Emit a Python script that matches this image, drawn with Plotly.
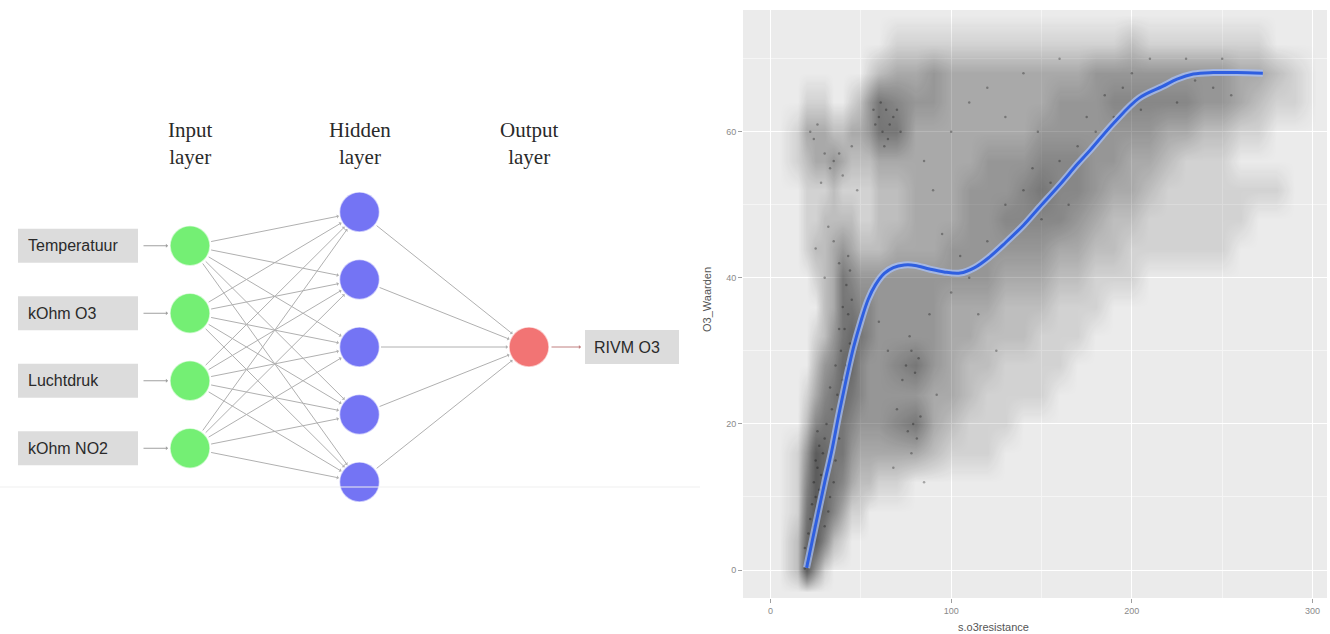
import plotly.graph_objects as go

W, H = 1330, 634

# ---------------- Neural-network diagram data ----------------
layer_titles = ["Input<br>layer", "Hidden<br>layer", "Output<br>layer"]
input_labels = ["Temperatuur", "kOhm O3", "Luchtdruk", "kOhm NO2"]
hidden_count = 5
output_labels = ["RIVM O3"]
layer_colors = ["#74ef74", "#7474f4", "#f27474"]

# ---------------- Scatter panel data ----------------
curve_x = [20, 25, 30, 34, 38, 42, 46, 50, 54, 58, 63, 68, 74, 80, 88, 96, 105,
           113, 121, 130, 140, 149, 160, 170, 177, 190, 204, 217, 225, 234, 245,
           258, 272.5]
curve_y = [0.3, 6.2, 12.0, 16.4, 21.5, 26.2, 30.5, 34.0, 37.0, 39.0, 40.6, 41.4,
           41.75, 41.7, 41.2, 40.8, 40.65, 41.4, 42.8, 44.8, 47.2, 49.7, 52.7,
           55.6, 57.5, 61.2, 64.6, 66.2, 67.2, 67.9, 68.1, 68.1, 68.0]

# point-density read from the cloud (rows = grid_y, cols = grid_x)
grid_x = [15, 20, 25, 30, 35, 40, 45, 50, 55, 60, 70, 80, 90, 100, 110, 120, 130,
          140, 150, 160, 170, 180, 190, 200, 210, 220, 230, 240, 250, 260, 270,
          280, 290]
grid_y = [0, 4, 8, 12, 16, 20, 24, 28, 32, 36, 40, 44, 48, 52, 56, 60, 64, 68, 72]
density = [
    [2, 8, 4, 1, 0, 0, 0, 0, 0, 0, 0, 0, 0, 0, 0, 0, 0, 0, 0, 0, 0, 0, 0, 0, 0, 0, 0, 0, 0, 0, 0, 0, 0],
    [2, 7, 8, 5, 2, 1, 0, 0, 0, 0, 0, 0, 0, 0, 0, 0, 0, 0, 0, 0, 0, 0, 0, 0, 0, 0, 0, 0, 0, 0, 0, 0, 0],
    [1, 6, 8, 7, 5, 3, 1, 1, 0, 0, 0, 0, 0, 0, 0, 0, 0, 0, 0, 0, 0, 0, 0, 0, 0, 0, 0, 0, 0, 0, 0, 0, 0],
    [1, 5, 8, 7, 6, 5, 3, 2, 2, 1, 1, 0, 0, 0, 0, 0, 0, 0, 0, 0, 0, 0, 0, 0, 0, 0, 0, 0, 0, 0, 0, 0, 0],
    [1, 4, 8, 7, 6, 6, 4, 3, 3, 3, 3, 3, 2, 1, 1, 1, 0, 0, 0, 0, 0, 0, 0, 0, 0, 0, 0, 0, 0, 0, 0, 0, 0],
    [0, 2, 5, 6, 6, 6, 5, 4, 4, 4, 5, 6, 3, 2, 1, 1, 1, 0, 0, 0, 0, 0, 0, 0, 0, 0, 0, 0, 0, 0, 0, 0, 0],
    [0, 1, 3, 5, 6, 7, 6, 5, 4, 4, 4, 4, 3, 3, 2, 1, 1, 1, 1, 0, 0, 0, 0, 0, 0, 0, 0, 0, 0, 0, 0, 0, 0],
    [0, 0, 2, 4, 5, 7, 7, 5, 4, 4, 5, 6, 4, 3, 2, 2, 1, 1, 1, 1, 0, 0, 0, 0, 0, 0, 0, 0, 0, 0, 0, 0, 0],
    [0, 0, 1, 2, 4, 6, 7, 6, 5, 4, 4, 4, 4, 3, 3, 2, 2, 2, 1, 1, 1, 0, 0, 0, 0, 0, 0, 0, 0, 0, 0, 0, 0],
    [0, 0, 0, 2, 3, 6, 6, 5, 5, 4, 4, 4, 4, 3, 3, 3, 2, 2, 2, 1, 1, 1, 0, 0, 0, 0, 0, 0, 0, 0, 0, 0, 0],
    [0, 0, 1, 2, 3, 6, 5, 4, 4, 4, 4, 4, 4, 4, 4, 4, 3, 3, 3, 2, 2, 1, 1, 1, 0, 0, 0, 0, 0, 0, 0, 0, 0],
    [0, 1, 2, 2, 3, 4, 3, 2, 2, 2, 3, 3, 3, 4, 4, 4, 4, 4, 4, 3, 3, 2, 2, 1, 1, 1, 1, 1, 1, 0, 0, 0, 0],
    [0, 1, 1, 2, 2, 2, 2, 1, 1, 2, 2, 3, 3, 3, 4, 4, 5, 5, 5, 5, 4, 3, 2, 2, 1, 1, 1, 1, 1, 1, 0, 0, 0],
    [0, 1, 1, 1, 2, 1, 1, 1, 1, 2, 2, 3, 3, 3, 4, 4, 4, 5, 6, 5, 5, 4, 3, 3, 2, 1, 1, 1, 1, 1, 1, 1, 0],
    [1, 2, 3, 3, 4, 3, 2, 2, 2, 3, 3, 3, 3, 3, 3, 4, 4, 4, 5, 5, 5, 4, 4, 3, 3, 2, 1, 1, 1, 0, 0, 0, 0],
    [1, 3, 3, 3, 2, 2, 3, 3, 4, 6, 6, 3, 3, 3, 3, 3, 3, 3, 4, 4, 4, 4, 4, 4, 4, 3, 3, 2, 2, 1, 1, 0, 0],
    [0, 1, 1, 1, 0, 0, 1, 2, 4, 6, 5, 4, 4, 3, 3, 3, 3, 3, 3, 4, 4, 4, 5, 5, 5, 5, 5, 4, 4, 3, 2, 1, 1],
    [0, 0, 0, 0, 0, 0, 0, 0, 1, 2, 3, 3, 4, 3, 3, 3, 3, 3, 3, 3, 3, 4, 4, 4, 4, 4, 4, 4, 4, 3, 3, 2, 1],
    [0, 0, 0, 0, 0, 0, 0, 0, 0, 0, 1, 1, 1, 1, 1, 1, 1, 1, 1, 1, 1, 1, 1, 2, 1, 1, 1, 1, 1, 1, 1, 0, 0],
]

# individual darker points read from the cloud
speck_x = [19, 20, 21, 22, 19, 23, 21, 24, 22, 26, 23, 25, 27, 24, 28, 26, 25, 29, 27, 30,
           26, 31, 33, 35, 32, 30, 36, 38, 34, 37, 40, 42, 39, 44, 41, 43, 45, 42, 44, 43,
           40, 38, 36, 33, 75, 78, 80, 82, 77, 73, 79, 81, 76, 83, 78, 70, 65, 60, 88, 92,
           68, 85, 22, 24, 26, 30, 33, 35, 38, 40, 28, 45, 48, 32, 35, 25, 38, 30, 58, 60,
           62, 64, 66, 68, 61, 65, 70, 72, 63, 57, 130, 140, 145, 150, 155, 160, 165, 170,
           135, 148, 175, 185, 195, 205, 215, 225, 235, 245, 255, 210, 200, 190, 180, 120,
           110, 100, 115, 125, 105, 95, 90, 85, 100, 110, 120, 130, 140, 160, 230, 250]
speck_y = [0.2, 1, 0.5, 2, 3, 4, 5, 6, 7, 8, 9, 10, 11, 12, 13, 14, 15, 16, 17, 18,
           19, 20, 10, 12, 8, 6, 15, 18, 22, 24, 26, 28, 30, 31, 33, 35, 37, 39, 41, 43,
           36, 33, 28, 25, 28, 30, 27, 29, 32, 26, 20, 18, 19, 21, 16, 22, 30, 34, 35, 24,
           14, 12, 60, 59, 61, 57, 55, 56, 57, 54, 53, 58, 52, 47, 45, 44, 42, 40, 61, 62,
           60, 63, 61, 62, 64, 59, 63, 60, 58, 63, 50, 52, 55, 48, 53, 56, 50, 58,
           46, 60, 62, 65, 66, 63, 66, 64, 67, 66, 65, 70, 68, 62, 60, 45,
           40, 38, 35, 30, 43, 46, 52, 56, 60, 64, 66, 62, 68, 70, 70, 70]

x_ticks = [0, 100, 200, 300]
y_ticks = [0, 20, 40, 60]
x_title = "s.o3resistance"
y_title = "O3_Waarden"

# ---------------- Layout geometry (pixels) ----------------
DIAG_W = 700
L0_X, L_STEP = 190, 169.5
MID_Y, N_STEP = 347, 67.5
R = 20
P_LEFT, P_RIGHT, P_TOP, P_BOTTOM = 743, 1327, 10, 598
X_RANGE = [-15.2, 308.0]
Y_RANGE = [-3.83, 76.66]

fig = go.Figure()

layers = [input_labels, list(range(hidden_count)), output_labels]
pos = []
for i, nodes in enumerate(layers):
    n = len(nodes)
    lx = L0_X + L_STEP * i
    pos.append([(lx, MID_Y + (j - (n - 1) / 2) * N_STEP) for j in range(n)])

annotations = []
shapes = []

# edges between layers
for i in range(len(layers) - 1):
    for (sx, sy) in pos[i]:
        for (tx, ty) in pos[i + 1]:
            annotations.append(dict(
                x=tx, y=ty, ax=sx, ay=sy, xref="x2", yref="y2", axref="x2", ayref="y2",
                text="", showarrow=True, arrowhead=1, arrowsize=0.7, arrowwidth=1,
                arrowcolor="#b0b0b0", standoff=R + 1, startstandoff=R))

# nodes
for i, pts in enumerate(pos):
    fig.add_trace(go.Scatter(
        x=[p[0] for p in pts], y=[p[1] for p in pts], mode="markers",
        marker=dict(size=2 * R, color=layer_colors[i],
                    line=dict(width=1.5, color="rgba(255,255,255,0.6)")),
        xaxis="x2", yaxis="y2", hoverinfo="skip", showlegend=False, cliponaxis=False))

# layer titles
for i, t in enumerate(layer_titles):
    annotations.append(dict(
        x=pos[i][0][0], y=143, xref="x2", yref="y2", text=t, showarrow=False,
        font=dict(family="Liberation Serif", size=21, color="#2a2a2a"),
        align="center"))

# input labels
BOX_W, BOX_H = 120, 34
for lab, (nx, ny) in zip(input_labels, pos[0]):
    bx1 = nx - 52
    shapes.append(dict(type="rect", xref="x2", yref="y2", x0=bx1 - BOX_W, x1=bx1,
                       y0=ny - BOX_H / 2, y1=ny + BOX_H / 2, fillcolor="#dcdcdc",
                       line=dict(width=0), layer="below"))
    annotations.append(dict(x=bx1 - BOX_W + 8, y=ny, xref="x2", yref="y2", text=lab,
                            xanchor="left", showarrow=False,
                            font=dict(family="Liberation Sans", size=16, color="#2a2a2a")))
    annotations.append(dict(x=nx, y=ny, ax=bx1 + 4, ay=ny, xref="x2", yref="y2",
                            axref="x2", ayref="y2", text="", showarrow=True, arrowhead=1,
                            arrowsize=0.7, arrowwidth=1, arrowcolor="#a0a0a0",
                            standoff=R + 2))

# output label
for lab, (nx, ny) in zip(output_labels, pos[2]):
    bx0 = nx + 56
    shapes.append(dict(type="rect", xref="x2", yref="y2", x0=bx0, x1=bx0 + 94,
                       y0=ny - 17, y1=ny + 17, fillcolor="#dcdcdc",
                       line=dict(width=0), layer="below"))
    annotations.append(dict(x=bx0 + 7, y=ny, xref="x2", yref="y2", text=lab,
                            xanchor="left", showarrow=False,
                            font=dict(family="Liberation Sans", size=16, color="#2a2a2a")))
    annotations.append(dict(x=bx0 - 4, y=ny, ax=nx, ay=ny, xref="x2", yref="y2",
                            axref="x2", ayref="y2", text="", showarrow=True, arrowhead=1,
                            arrowsize=0.7, arrowwidth=1, arrowcolor="#c08080",
                            startstandoff=R + 1))

# faint lower border of the diagram picture
shapes.append(dict(type="line", xref="x2", yref="y2", x0=0, x1=DIAG_W, y0=487, y1=487,
                   line=dict(color="#efefef", width=1)))

# ---------------- Scatter panel ----------------
# pad the density grid with empty border cells so the cloud fades out at its edges
hx = [grid_x[0] - 10] + grid_x + [grid_x[-1] + 12]
hy = [grid_y[0] - 3] + grid_y + [grid_y[-1] + 4]
hz = [[0] * len(hx)] + [[0] + row + [0] for row in density] + [[0] * len(hx)]

fig.add_trace(go.Heatmap(
    x=hx, y=hy, z=hz, zmin=0, zmax=9, zsmooth="best",
    colorscale=[[0, "rgba(30,30,30,0)"], [0.111, "rgba(30,30,30,0.12)"],
                [0.222, "rgba(30,30,30,0.22)"], [0.333, "rgba(30,30,30,0.32)"],
                [0.444, "rgba(30,30,30,0.41)"], [0.556, "rgba(30,30,30,0.49)"],
                [0.667, "rgba(30,30,30,0.57)"], [0.889, "rgba(30,30,30,0.7)"],
                [1, "rgba(30,30,30,0.78)"]],
    showscale=False, hoverinfo="skip", xaxis="x", yaxis="y"))

fig.add_trace(go.Scatter(
    x=speck_x, y=speck_y, mode="markers",
    marker=dict(size=2.5, color="rgba(0,0,0,0.3)"),
    hoverinfo="skip", showlegend=False, xaxis="x", yaxis="y"))

fig.add_trace(go.Scatter(
    x=curve_x, y=curve_y, mode="lines", line=dict(color="rgba(170,195,255,0.7)", width=7, shape="spline"),
    hoverinfo="skip", showlegend=False, xaxis="x", yaxis="y"))
fig.add_trace(go.Scatter(
    x=curve_x, y=curve_y, mode="lines", line=dict(color="#2f5fe0", width=3, shape="spline"),
    hoverinfo="skip", showlegend=False, xaxis="x", yaxis="y"))

shapes.append(dict(type="rect", xref="x domain", yref="y domain", x0=0, x1=1, y0=0, y1=1,
                   fillcolor="#ebebeb", line=dict(width=0), layer="below"))

annotations.append(dict(x=(P_LEFT + P_RIGHT) / 2 / W - 0.003, y=(H - 627) / H, xref="paper", yref="paper",
                        text=x_title, showarrow=False, yanchor="middle",
                        font=dict(family="Liberation Sans", size=11, color="#555555")))
annotations.append(dict(x=707 / W, y=1 - 300 / H, xref="paper", yref="paper",
                        text=y_title, showarrow=False, textangle=-90,
                        font=dict(family="Liberation Sans", size=11, color="#555555")))

axis_common = dict(showline=False, zeroline=False, ticks="outside", ticklen=4,
                   tickcolor="#a0a0a0", tickwidth=1, showgrid=True, gridcolor="#ffffff",
                   gridwidth=1.2, tickfont=dict(family="Liberation Sans", size=9, color="#8a8a8a"))

fig.update_layout(
    width=W, height=H, margin=dict(l=0, r=0, t=0, b=0),
    paper_bgcolor="white", plot_bgcolor="rgba(0,0,0,0)",
    showlegend=False,
    xaxis=dict(domain=[P_LEFT / W, P_RIGHT / W], range=X_RANGE, tickvals=x_ticks,
               minor=dict(tickvals=[50, 150, 250], showgrid=True, gridcolor="#f5f5f5",
                          gridwidth=0.8, ticklen=0),
               **axis_common),
    yaxis=dict(domain=[1 - P_BOTTOM / H, 1 - P_TOP / H], range=Y_RANGE, tickvals=y_ticks,
               minor=dict(tickvals=[10, 30, 50, 70], showgrid=True, gridcolor="#f5f5f5",
                          gridwidth=0.8, ticklen=0),
               **axis_common),
    xaxis2=dict(domain=[0, DIAG_W / W], range=[0, DIAG_W], visible=False, fixedrange=True),
    yaxis2=dict(domain=[0, 1], range=[H, 0], visible=False, fixedrange=True),
    shapes=shapes, annotations=annotations,
)

fig.write_html("out.html", config={"displayModeBar": False},
               post_script="document.body.style.margin='0px';document.body.style.overflow='hidden';")
